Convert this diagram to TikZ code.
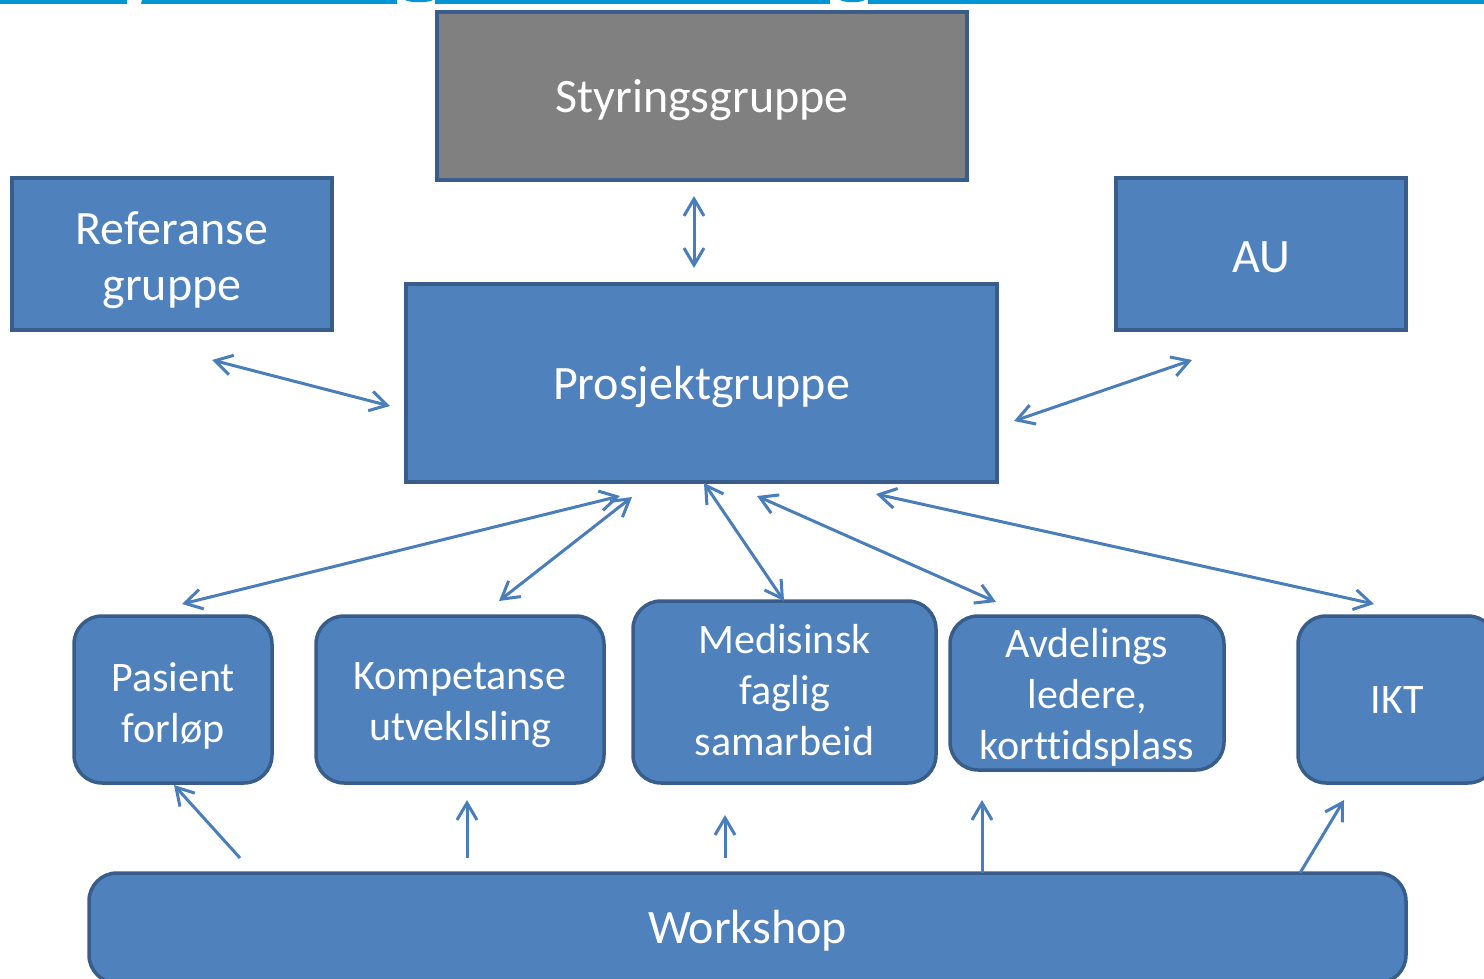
\documentclass[tikz,border=0pt]{standalone}
\usepackage{fontspec}
\setmainfont{Carlito}[Ligatures=CommonOff]
\usetikzlibrary{arrows.meta}
\definecolor{boxfill}{HTML}{4F81BD}
\definecolor{boxline}{HTML}{385D8A}
\definecolor{arrcol}{HTML}{4A7EBB}
\definecolor{topblue}{HTML}{0096D6}
\definecolor{grayfill}{HTML}{808080}
\begin{document}
\begin{tikzpicture}[x=1pt,y=-1pt,
  box/.style={draw=boxline, line width=3.5pt, fill=boxfill, inner sep=0pt},
  rbox/.style={box, rounded corners=28pt},
  txt/.style={text=white, align=center, inner sep=0pt},
  bigtext/.style={txt, font=\fontsize{48}{56}\selectfont},
  smalltext/.style={txt, font=\fontsize{42}{51}\selectfont},
  barb/.tip={Straight Barb[length=17pt,width=20pt]},
  conn/.style={draw=arrcol, line width=3pt, barb-barb},
  oneway/.style={draw=arrcol, line width=3pt, -barb}]
\useasboundingbox (0,0) rectangle (1484,979);
\clip (0,0) rectangle (1484,979);
% cut-off title band at the top
\fill[topblue] (0,0) rectangle (127,4);
\fill[topblue] (142,0) -- (397,0) -- (397,4) -- (141,4) -- cycle;
\fill[topblue] (405,0) .. controls (410,3) and (428,3) .. (433,0) -- cycle;
\fill[topblue] (435,0) rectangle (830,4);
\fill[topblue] (840,0) .. controls (845,3) and (860,3) .. (865,0) -- cycle;
\fill[topblue] (868,0) rectangle (1484,4);
% boxes
\node[box, fill=grayfill, minimum width=530pt, minimum height=168pt,
  label={[bigtext, yshift=-4pt]center:Styringsgruppe}] (sty) at (702,96) {};
\node[box, minimum width=320pt, minimum height=152pt,
  label={[bigtext, yshift=-6pt]center:{Referanse\\gruppe}}] (ref) at (172,254) {};
\node[box, minimum width=290pt, minimum height=152pt,
  label={[bigtext, yshift=-3pt]center:AU}] (au) at (1261,254) {};
\node[box, minimum width=591pt, minimum height=198pt,
  label={[bigtext, yshift=-4pt]center:Prosjektgruppe}] (pro) at (701.5,383) {};
\node[rbox, minimum width=198pt, minimum height=167pt,
  label={[smalltext, yshift=-6pt]center:{Pasient\\forløp}}] (pas) at (173,699.5) {};
\node[rbox, minimum width=288pt, minimum height=167pt,
  label={[smalltext, yshift=-6pt]center:{Kompetanse\\utveklsling}}] (kom) at (460,699.5) {};
\node[rbox, minimum width=303pt, minimum height=182pt,
  label={[smalltext, yshift=2pt]center:{Medisinsk\\faglig\\samarbeid}}] (med) at (784.5,692) {};
\node[rbox, minimum width=274pt, minimum height=154pt,
  label={[smalltext, yshift=-4pt]center:{Avdelings\\ledere,\\korttidsplass}}] (avd) at (1087,693) {};
\node[rbox, minimum width=198pt, minimum height=167pt,
  label={[smalltext, yshift=-1pt]center:IKT}] (ikt) at (1397,699.5) {};
\node[rbox, minimum width=1317pt, minimum height=110pt,
  label={[bigtext, yshift=-3pt]center:Workshop}] (ws) at (747.5,928) {};
% connector end points
\coordinate (a1) at (694,196); \coordinate (a2) at (694,268);
\coordinate (b1) at (212,360); \coordinate (b2) at (390,406);
\coordinate (c1) at (1014,421); \coordinate (c2) at (1192,360);
\coordinate (d1) at (620,496); \coordinate (d2) at (182,604);
\coordinate (e1) at (632,497); \coordinate (e2) at (499,601);
\coordinate (f1) at (704,483); \coordinate (f2) at (784,601);
\coordinate (g1) at (757,496); \coordinate (g2) at (996,602);
\coordinate (h1) at (876,494); \coordinate (h2) at (1374,604);
\coordinate (w1s) at (240,858); \coordinate (w1e) at (174,785);
\coordinate (w2s) at (467,858); \coordinate (w2e) at (467,800);
\coordinate (w3s) at (725,858); \coordinate (w3e) at (725,815);
\coordinate (w4s) at (982,873); \coordinate (w4e) at (982,800);
\coordinate (w5s) at (1300,873); \coordinate (w5e) at (1344,800);
% two-way connectors
\draw[conn] (a1) -- (a2);
\draw[conn] (b1) -- (b2);
\draw[conn] (c1) -- (c2);
\draw[conn] (d1) -- (d2);
\draw[conn] (e1) -- (e2);
\draw[conn] (f1) -- (f2);
\draw[conn] (g1) -- (g2);
\draw[conn] (h1) -- (h2);
% workshop arrows
\draw[oneway] (w1s) -- (w1e);
\draw[oneway] (w2s) -- (w2e);
\draw[oneway] (w3s) -- (w3e);
\draw[oneway] (w4s) -- (w4e);
\draw[oneway] (w5s) -- (w5e);
\end{tikzpicture}
\end{document}
